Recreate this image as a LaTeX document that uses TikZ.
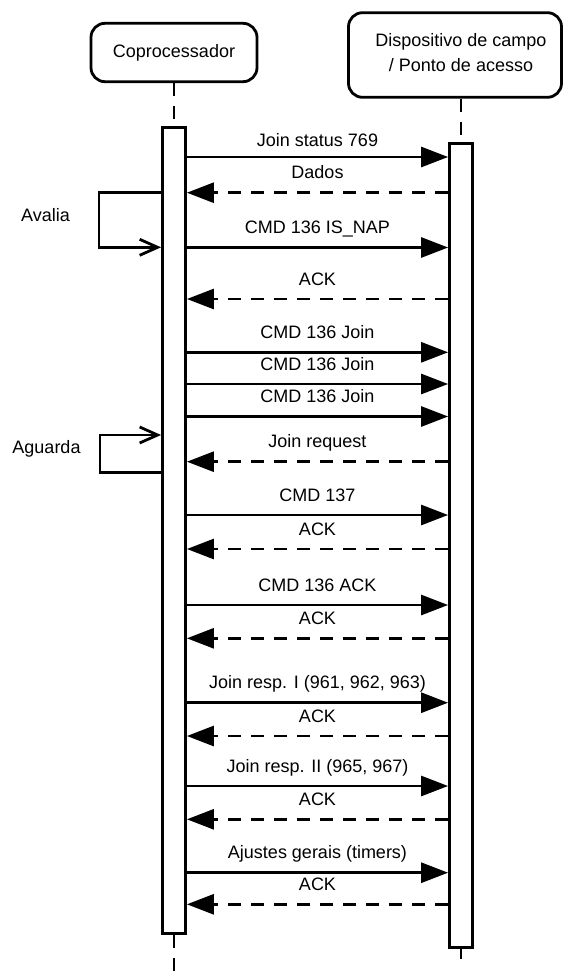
\documentclass[tikz,border=0pt]{standalone}
\usepackage{fontspec}
\setmainfont{Liberation Sans}
\usetikzlibrary{arrows.meta}

\begin{document}
\begin{tikzpicture}[x=1pt,y=-1pt,
    font=\fontsize{18}{25}\selectfont,
    actor/.style={draw, line width=2.8pt, rounded corners=14pt, inner sep=0pt},
    actbar/.style={draw, line width=2.8pt, fill=white, minimum width=23pt, inner sep=0pt, anchor=north},
    life/.style={line width=1.6pt, dash pattern=on 13pt off 10pt},
    msg/.style={line width=2.8pt, -{Triangle[length=27pt,width=20pt]}},
    reply/.style={msg, dash pattern=on 13pt off 10pt},
    loopback/.style={line width=2.8pt, -{Straight Barb[length=18pt,width=16pt]}},
    msglabel/.style={midway, anchor=base, yshift=14pt}]
    \useasboundingbox (0,0) rectangle (563,972);
    % participants
    \node[actor, minimum width=166pt, minimum height=58.4pt] (cop) at (174,52.5) {Coprocessador};
    \node[actor, minimum width=213pt, minimum height=84.6pt] (dev) at (455,55) {};
    \node[align=center] (devname) at (461,52.5) {Dispositivo de campo\\/ Ponto de acesso};
    \node[actbar, minimum height=805.7pt] (cbar) at (174,126) {};
    \node[actbar, minimum height=804pt] (dbar) at (461,142) {};
    \coordinate (cend) at (174,972);
    \coordinate (dend) at (461,959);
    \draw[life] (cop.south) -- (cbar.north);
    \draw[life] (devname |- dev.south) -- (dbar.north);
    \draw[life] (cbar.south) -- (cend);
    \draw[life] (dbar.south) -- (dend);
    % messages
    \draw[msg] (cbar.east |- 0,157) -- (dbar.west |- 0,157) node[msglabel, yshift=-3pt] {Join status 769};
    \foreach \y/\t in {247.5/CMD 136 IS\_NAP, 352.3/CMD 136 Join, 384/CMD 136 Join, 416.5/CMD 136 Join, 515/CMD 137, 605/CMD 136 ACK, 702.7/{Join resp. I (961, 962, 963)}, 786/{Join resp. II (965, 967)}, 872.7/Ajustes gerais (timers)}
        \draw[msg] (cbar.east |- 0,\y) -- (dbar.west |- 0,\y) node[msglabel] {\t};
    \foreach \y/\t in {192.7/Dados, 299/ACK, 461.7/Join request, 549/ACK, 638.3/ACK, 736/ACK, 819.3/ACK, 904.3/ACK}
        \draw[reply] (dbar.west |- 0,\y) -- (cbar.east |- 0,\y) node[msglabel] {\t};
    % self loops
    \draw[loopback] (cbar.west |- 0,192.7) -| (99,247.3) -- (cbar.west |- 0,247.3);
    \draw[loopback] (cbar.west |- 0,472.7) -| (100,435) -- (cbar.west |- 0,435);
    \node (avalia) at (45.5,215) {Avalia};
    \node (aguarda) at (46.5,448.5) {Aguarda};
\end{tikzpicture}
\end{document}
